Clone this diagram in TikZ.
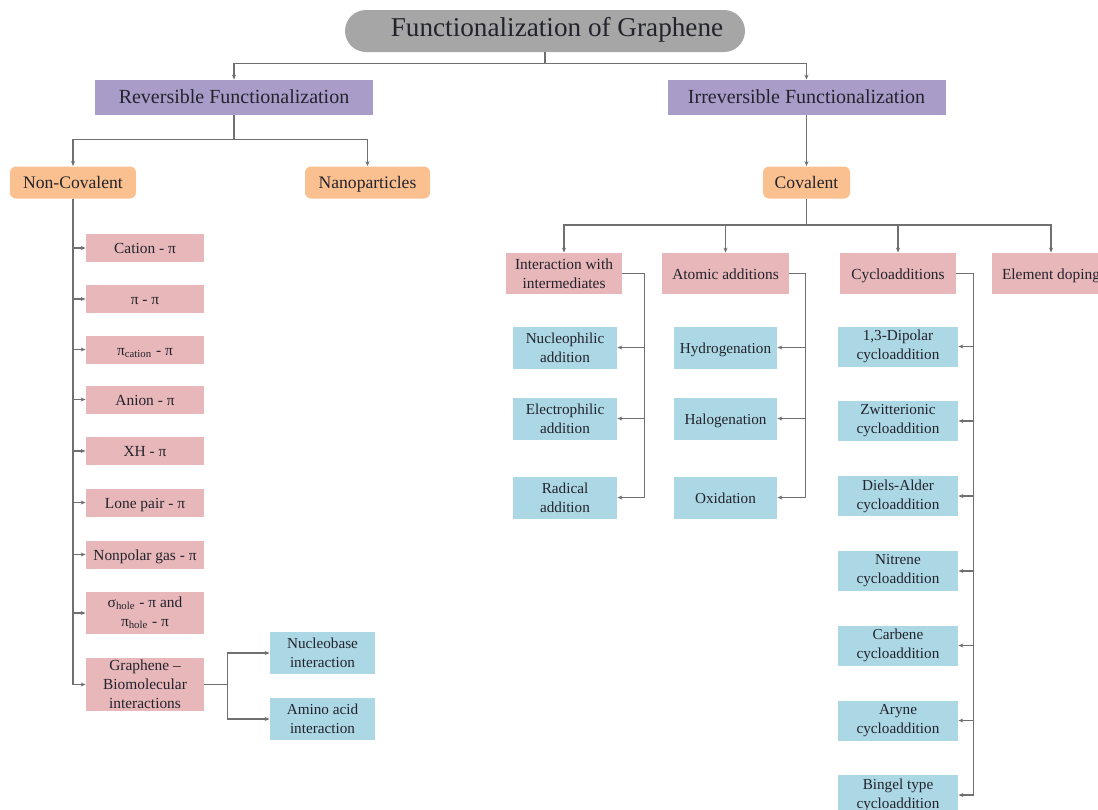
\documentclass[tikz,border=0pt]{standalone}
\usepackage{fontspec}
\setmainfont{Liberation Serif}
\usetikzlibrary{arrows.meta}
\definecolor{titlegray}{RGB}{166,166,166}
\definecolor{revpurple}{RGB}{170,156,201}
\definecolor{typeorange}{RGB}{250,192,143}
\definecolor{classpink}{RGB}{231,183,185}
\definecolor{itemblue}{RGB}{172,216,229}
\definecolor{linegray}{RGB}{112,112,112}
\definecolor{textdark}{RGB}{35,35,45}
\tikzset{
  box/.style={text=textdark, align=center, inner sep=1pt},
  oneline/.style={text height=1.5ex, text depth=0.2ex},
  titlebox/.style={box, oneline, fill=titlegray, rounded corners=10.5pt, minimum width=200pt, minimum height=21pt, font=\fontsize{13.6}{16}\selectfont},
  mainbox/.style={box, oneline, fill=revpurple, minimum width=139pt, minimum height=17.5pt, font=\fontsize{10}{12}\selectfont},
  typebox/.style={box, oneline, fill=typeorange, rounded corners=3pt, minimum height=16pt, font=\fontsize{8.8}{10.5}\selectfont},
  pinkbox/.style={box, fill=classpink, minimum width=59pt, minimum height=14pt, font=\fontsize{7.7}{9.5}\selectfont},
  bluebox/.style={box, fill=itemblue, minimum width=52pt, minimum height=21pt, font=\fontsize{7.6}{9.5}\selectfont},
  link/.style={draw=linegray, line width=0.65pt, -{Stealth[length=2.5pt,width=2pt]}}
}
\begin{document}
\begin{tikzpicture}[x=0.5pt, y=-0.5pt]
    \useasboundingbox (0,0) rectangle (1098,809);
    \node[titlebox] (title) at (545,31) {\hspace*{12pt}Functionalization of Graphene};
    \node[mainbox] (rev) at (234,97.5) {Reversible Functionalization};
    \node[mainbox] (irrev) at (806.5,97.5) {Irreversible Functionalization};
    \node[typebox, minimum width=63pt] (noncov) at (73,182.5) {Non-Covalent};
    \node[typebox, minimum width=62.5pt] (nano) at (367.5,182.5) {Nanoparticles};
    \node[typebox, minimum width=43.5pt] (cov) at (806.5,182.5) {Covalent};

    \node[pinkbox, oneline] (cation) at (145,248) {Cation - π};
    \node[pinkbox, oneline] (pipi) at (145,299) {π - π};
    \node[pinkbox, oneline] (picat) at (145,349.5) {π\textsubscript{cation} - π};
    \node[pinkbox, oneline] (anion) at (145,399.5) {Anion - π};
    \node[pinkbox, oneline] (xh) at (145,451) {XH - π};
    \node[pinkbox, oneline] (lone) at (145,502.5) {Lone pair - π};
    \node[pinkbox, oneline] (nonpolar) at (145,554.5) {Nonpolar gas - π};
    \node[pinkbox, minimum height=21pt] (hole) at (145,613) {σ\textsubscript{hole} - π and\\π\textsubscript{hole} - π};
    \node[pinkbox, minimum height=26.5pt] (biomol) at (145,684.5) {Graphene –\\Biomolecular\\interactions};
    \node[bluebox, minimum width=52.5pt] (nucleo) at (322.5,653) {Nucleobase\\interaction};
    \node[bluebox, minimum width=52.5pt] (amino) at (322.5,719) {Amino acid\\interaction};

    \node[pinkbox, minimum width=58pt, minimum height=20.5pt] (inter) at (564,273.5) {Interaction with\\intermediates};
    \node[pinkbox, oneline, minimum width=63.5pt, minimum height=20.5pt] (atomic) at (725.5,273.5) {Atomic additions};
    \node[pinkbox, oneline, minimum width=58pt, minimum height=20.5pt] (cyclo) at (898,273.5) {Cycloadditions};
    \node[pinkbox, oneline, minimum width=59pt, minimum height=20.5pt] (doping) at (1051,273.5) {Element doping};

    \node[bluebox] (nucleoph) at (565,347.5) {Nucleophilic\\addition};
    \node[bluebox] (electroph) at (565,418.5) {Electrophilic\\addition};
    \node[bluebox] (radical) at (565,497.5) {Radical\\addition};
    \node[bluebox, oneline, minimum width=51.5pt] (hydro) at (725.5,347.5) {Hydrogenation};
    \node[bluebox, oneline, minimum width=51.5pt] (halo) at (725.5,418.5) {Halogenation};
    \node[bluebox, oneline, minimum width=51.5pt] (oxid) at (725.5,497.5) {Oxidation};

    \node[bluebox, minimum width=60pt, minimum height=20pt] (dipolar) at (898,346.5) {1,3-Dipolar\\cycloaddition};
    \node[bluebox, minimum width=60pt, minimum height=20pt] (zwitter) at (898,421) {Zwitterionic\\cycloaddition};
    \node[bluebox, minimum width=60pt, minimum height=20pt] (diels) at (898,496) {Diels-Alder\\cycloaddition};
    \node[bluebox, minimum width=60pt, minimum height=20pt] (nitrene) at (898,571) {Nitrene\\cycloaddition};
    \node[bluebox, minimum width=60pt, minimum height=20pt] (carbene) at (898,645.5) {Carbene\\cycloaddition};
    \node[bluebox, minimum width=60pt, minimum height=20pt] (aryne) at (898,720.5) {Aryne\\cycloaddition};
    \node[bluebox, minimum width=60pt, minimum height=20pt] (bingel) at (898,795) {Bingel type\\cycloaddition};

    \draw[link] (title.south) -- ++(0,11) -| (rev.north);
    \draw[link] (title.south) -- ++(0,11) -| (irrev.north);
    \draw[link] (rev.south) -- ++(0,24) -| (noncov.north);
    \draw[link] (rev.south) -- ++(0,24) -| (nano.north);
    \draw[link] (irrev.south) -- (cov.north);
    \draw[link] (cov.south) -- ++(0,26) -| (inter.north);
    \draw[link] (cov.south) -- ++(0,26) -| (atomic.north);
    \draw[link] (cov.south) -- ++(0,26) -| (cyclo.north);
    \draw[link] (cov.south) -- ++(0,26) -| (doping.north);

    \draw[link] (noncov.south) |- (cation.west);
    \draw[link] (noncov.south) |- (pipi.west);
    \draw[link] (noncov.south) |- (picat.west);
    \draw[link] (noncov.south) |- (anion.west);
    \draw[link] (noncov.south) |- (xh.west);
    \draw[link] (noncov.south) |- (lone.west);
    \draw[link] (noncov.south) |- (nonpolar.west);
    \draw[link] (noncov.south) |- (hole.west);
    \draw[link] (noncov.south) |- (biomol.west);
    \draw[link] (biomol.east) -- ++(23,0) |- (nucleo.west);
    \draw[link] (biomol.east) -- ++(23,0) |- (amino.west);

    \draw[link] (inter.east) -- ++(22,0) |- (nucleoph.east);
    \draw[link] (inter.east) -- ++(22,0) |- (electroph.east);
    \draw[link] (inter.east) -- ++(22,0) |- (radical.east);
    \draw[link] (atomic.east) -- ++(16,0) |- (hydro.east);
    \draw[link] (atomic.east) -- ++(16,0) |- (halo.east);
    \draw[link] (atomic.east) -- ++(16,0) |- (oxid.east);
    \draw[link] (cyclo.east) -- ++(17,0) |- (dipolar.east);
    \draw[link] (cyclo.east) -- ++(17,0) |- (zwitter.east);
    \draw[link] (cyclo.east) -- ++(17,0) |- (diels.east);
    \draw[link] (cyclo.east) -- ++(17,0) |- (nitrene.east);
    \draw[link] (cyclo.east) -- ++(17,0) |- (carbene.east);
    \draw[link] (cyclo.east) -- ++(17,0) |- (aryne.east);
    \draw[link] (cyclo.east) -- ++(17,0) |- (bingel.east);
\end{tikzpicture}
\end{document}
